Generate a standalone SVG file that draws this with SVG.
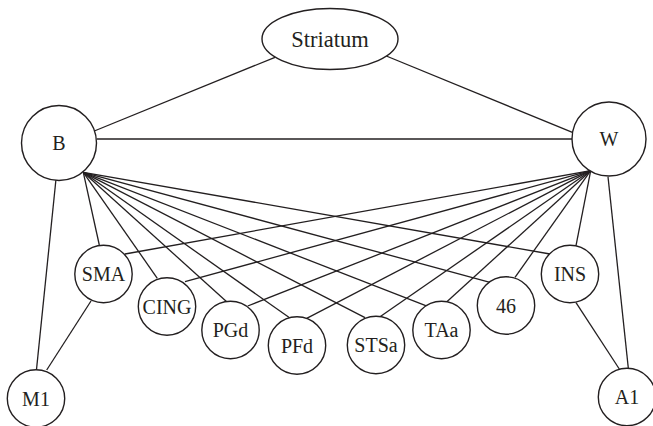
<svg xmlns="http://www.w3.org/2000/svg" width="653" height="426" viewBox="0 0 653 426">
<style>
.n{fill:#fff;stroke:#231f20;stroke-width:1.4}
.e line{stroke:#231f20;stroke-width:1.3}
text{font-family:"Liberation Serif","Times New Roman",serif;font-size:20px;fill:#231f20;text-anchor:middle}
</style>
<rect width="653" height="426" fill="#fff"/>
<g class="e" id="edges">
<line x1="94.3" y1="131" x2="275" y2="57.3"/>
<line x1="386.3" y1="56" x2="573" y2="132.7"/>
<line x1="96.7" y1="139" x2="572.3" y2="139"/>
<line x1="56" y1="179" x2="36.5" y2="369.5"/>
<line x1="608" y1="176.7" x2="628.3" y2="368"/>
<line x1="91" y1="301" x2="46.7" y2="370"/>
<line x1="576" y1="302.7" x2="619.3" y2="369"/>
<line x1="83.3" y1="172.3" x2="99.3" y2="245"/>
<line x1="83.3" y1="172.3" x2="157.3" y2="278.3"/>
<line x1="83.3" y1="172.3" x2="226.7" y2="301.7"/>
<line x1="83.3" y1="172.3" x2="291.7" y2="319.3"/>
<line x1="83.3" y1="172.3" x2="365" y2="317.7"/>
<line x1="83.3" y1="172.3" x2="428.3" y2="306.7"/>
<line x1="83.3" y1="172.3" x2="490" y2="282.3"/>
<line x1="83.3" y1="172.3" x2="550" y2="254"/>
<line x1="590.7" y1="170.7" x2="125" y2="254"/>
<line x1="590.7" y1="170.7" x2="185" y2="281.7"/>
<line x1="590.7" y1="170.7" x2="247.7" y2="306"/>
<line x1="590.7" y1="170.7" x2="306.7" y2="318.3"/>
<line x1="590.7" y1="170.7" x2="380" y2="316.7"/>
<line x1="590.7" y1="170.7" x2="446.3" y2="302.3"/>
<line x1="590.7" y1="170.7" x2="515" y2="277.3"/>
<line x1="590.7" y1="170.7" x2="576" y2="245.7"/>
</g>
<g id="Striatum"><ellipse class="n" cx="330" cy="39" rx="68" ry="30.5"/><text x="330" y="47" style="font-size:22.5px">Striatum</text></g>
<g id="B"><circle class="n" cx="59" cy="143" r="37.5"/><text x="59" y="150">B</text></g>
<g id="W"><circle class="n" cx="609" cy="139" r="37"/><text x="609" y="146">W</text></g>
<g id="SMA"><circle class="n" cx="103.5" cy="274" r="28.7"/><text x="103.5" y="281">SMA</text></g>
<g id="CING"><circle class="n" cx="167" cy="306.5" r="28.7"/><text x="167" y="313.5">CING</text></g>
<g id="PGd"><circle class="n" cx="230.5" cy="330" r="28.7"/><text x="230.5" y="337">PGd</text></g>
<g id="PFd"><circle class="n" cx="297" cy="345.5" r="28.7"/><text x="297" y="352.5">PFd</text></g>
<g id="STSa"><circle class="n" cx="376" cy="345" r="28.7"/><text x="376" y="352">STSa</text></g>
<g id="TAa"><circle class="n" cx="441.5" cy="330" r="28.7"/><text x="441.5" y="337">TAa</text></g>
<g id="n46"><circle class="n" cx="506" cy="305.5" r="28.7"/><text x="506" y="312.5">46</text></g>
<g id="INS"><circle class="n" cx="570" cy="274" r="28.7"/><text x="570" y="281">INS</text></g>
<g id="M1"><circle class="n" cx="36" cy="398.5" r="28.7"/><text x="36" y="405.5">M1</text></g>
<g id="A1"><circle class="n" cx="627" cy="397" r="28.7"/><text x="627" y="404">A1</text></g>
</svg>
